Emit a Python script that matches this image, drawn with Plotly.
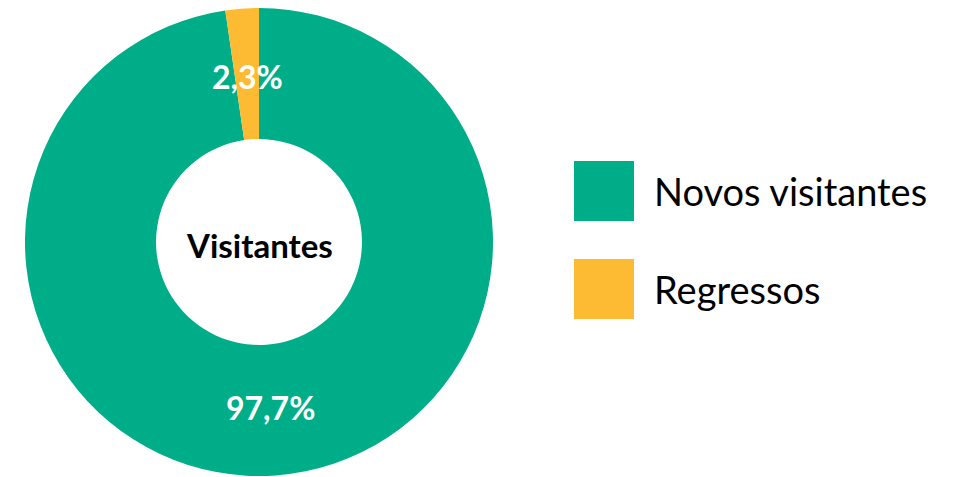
import math
import plotly.graph_objects as go

categories = ["Novos visitantes", "Regressos"]
values = [97.7, 2.3]
colors = ["#00AD89", "#FDBB33"]
center_title = "Visitantes"

W, H = 955, 477
cx, cy, R = 259, 242, 234
hole = 0.44

fig = go.Figure(go.Pie(
    labels=categories, values=values, hole=hole, sort=False,
    direction="clockwise", rotation=0,
    marker=dict(colors=colors, line=dict(width=0)),
    textinfo="none", hoverinfo="label+percent", showlegend=False,
    domain=dict(x=[(cx - R) / W, (cx + R) / W], y=[1 - (cy + R) / H, 1 - (cy - R) / H]),
))

ann = []
# value labels at the middle of each slice
total = sum(values)
cum = 0
rl = R * (1 + hole) / 2 - 3
for v in values:
    mid = (cum + v / 2) / total * 2 * math.pi
    cum += v
    x = cx + rl * math.sin(mid)
    y = cy - rl * math.cos(mid)
    ann.append(dict(x=x / W, y=1 - y / H, xref="paper", yref="paper",
                    xanchor="center", yanchor="middle",
                    text=f"<b>{v:.1f}%</b>".replace(".", ","), showarrow=False,
                    font=dict(family="Lato", size=32, color="white")))
ann.append(dict(x=cx / W, y=1 - (cy + 3) / H, xref="paper", yref="paper", text=f"<b>{center_title}</b>",
                xanchor="center", yanchor="middle",
                showarrow=False, font=dict(family="Lato", size=33, color="black")))

shapes = []
leg_y = [191, 289]
for cat, col, ly in zip(categories, colors, leg_y):
    shapes.append(dict(type="rect", xref="paper", yref="paper",
                       x0=574 / W, x1=634 / W, y0=1 - (ly + 30) / H, y1=1 - (ly - 30) / H,
                       fillcolor=col, line=dict(width=0)))
    ann.append(dict(x=652 / W, y=1 - ly / H, xref="paper", yref="paper", text=cat,
                    xanchor="left", yanchor="middle", showarrow=False,
                    font=dict(family="Lato", size=38, color="black")))

fig.update_layout(width=W, height=H, margin=dict(l=0, r=0, t=0, b=0),
                  paper_bgcolor="white", plot_bgcolor="white",
                  annotations=ann, shapes=shapes)
fig.write_html("out.html", config={"displayModeBar": False},
               post_script="document.body.style.margin='0';")
